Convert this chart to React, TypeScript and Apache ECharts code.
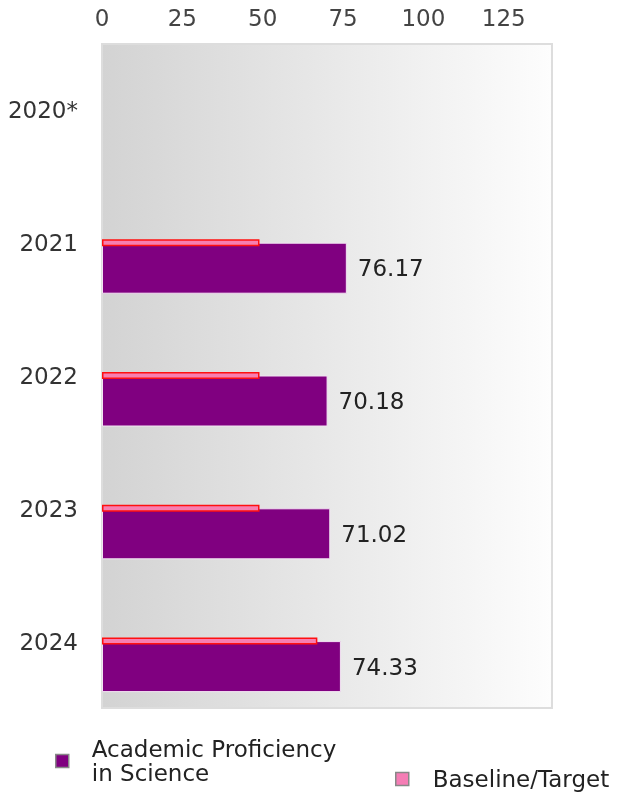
import React, { useEffect, useRef } from "react";
import * as echarts from "echarts";

const categories = ["2020*", "2021", "2022", "2023", "2024"];
const proficiency = [null, 76.17, 70.18, 71.02, 74.33];
const baseline = [null, 49, 49, 49, 67];
const spacer = [null, null, null, null, null];
const xTicks = { min: 0, max: 140, interval: 25 };
const seriesNames = ["Academic Proficiency\nin Science", "Baseline/Target"];

export default function App() {
  const ref = useRef<HTMLDivElement>(null);
  useEffect(() => {
    if (!ref.current) return;
    const chart = echarts.init(ref.current, null, { renderer: "svg" });
    const font = "DejaVu Sans";
    const fs = 23;
    chart.setOption({
      animation: false,
      textStyle: { fontFamily: font },
      grid: {
        left: 102,
        right: 72,
        top: 44,
        bottom: 86,
        show: true,
        borderColor: "#dddddd",
        borderWidth: 2,
        backgroundColor: new echarts.graphic.LinearGradient(0, 0, 1, 0, [
          { offset: 0, color: "#d3d3d3" },
          { offset: 1, color: "#fdfdfd" },
        ]),
      },
      xAxis: {
        type: "value",
        position: "top",
        min: xTicks.min,
        max: xTicks.max,
        interval: xTicks.interval,
        axisLine: { show: false },
        axisTick: { show: false },
        splitLine: { show: false },
        axisLabel: {
          fontSize: fs,
          color: "#444",
          fontFamily: font,
          margin: 15,
          showMaxLabel: false,
        },
      },
      yAxis: {
        type: "category",
        data: categories,
        inverse: true,
        axisLine: { show: false },
        axisTick: { show: false },
        axisLabel: { fontSize: fs, color: "#333", fontFamily: font, margin: 24 },
      },
      legend: [
        {
          left: 50,
          top: 732,
          icon: "rect",
          itemWidth: 13,
          itemHeight: 13,
          textStyle: {
            fontSize: fs,
            color: "#222",
            fontFamily: font,
            lineHeight: 24,
            padding: [0, 0, 0, 18],
          },
          data: [
            {
              name: seriesNames[0],
              itemStyle: { color: "#800080", borderColor: "#888", borderWidth: 1.5 },
            },
          ],
        },
        {
          left: 390,
          top: 762,
          icon: "rect",
          itemWidth: 13,
          itemHeight: 13,
          textStyle: {
            fontSize: fs,
            color: "#222",
            fontFamily: font,
            lineHeight: 24,
            padding: [0, 0, 0, 19],
          },
          data: [
            {
              name: seriesNames[1],
              itemStyle: { color: "#f57db5", borderColor: "#888", borderWidth: 1.5 },
            },
          ],
        },
      ],
      series: [
        {
          name: "spacer",
          type: "bar",
          data: spacer,
          barWidth: 93,
          barGap: "-50%",
          silent: true,
          itemStyle: { color: "transparent" },
        },
        {
          name: seriesNames[1],
          type: "bar",
          data: baseline,
          barWidth: 7,
          barGap: "-50%",
          z: 4,
          itemStyle: { color: "#f77fb0", borderColor: "#ff1010", borderWidth: 1.5 },
        },
        {
          name: seriesNames[0],
          type: "bar",
          data: proficiency,
          barWidth: 51,
          barGap: "-50%",
          z: 2,
          itemStyle: { color: "#800080", borderColor: "#f3e3f3", borderWidth: 1 },
          label: {
            show: true,
            position: "right",
            distance: 11,
            fontSize: fs,
            color: "#222",
            fontFamily: font,
            formatter: (p: any) => Number(p.value).toFixed(2),
          },
        },
      ],
    });
    return () => chart.dispose();
  }, []);
  return (
    <div
      ref={ref}
      style={{ position: "fixed", left: 0, top: 0, width: 624, height: 794 }}
    />
  );
}
